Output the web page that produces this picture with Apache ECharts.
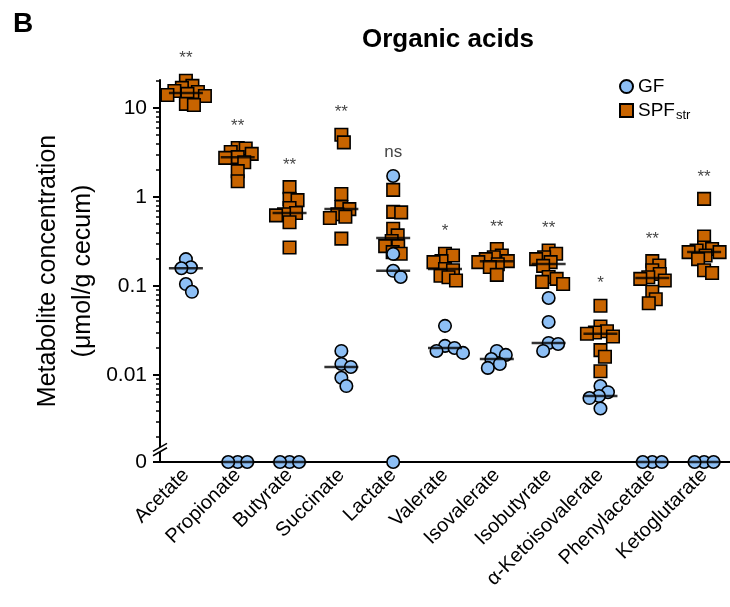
<!DOCTYPE html>
<html>
<head>
<meta charset="utf-8">
<script src="https://cdn.jsdelivr.net/npm/echarts@6/dist/echarts.min.js"></script>
<style>
  html, body { margin: 0; padding: 0; background: #fff; }
  #chart { width: 730px; height: 607px; }
</style>
</head>
<body>
<div id="chart"></div>
<script>
// Cecal organic acid concentrations (µmol/g cecum), one list per metabolite
const categories = ['Acetate', 'Propionate', 'Butyrate', 'Succinate', 'Lactate', 'Valerate',
  'Isovalerate', 'Isobutyrate', 'α-Ketoisovalerate', 'Phenylacetate', 'Ketoglutarate'];

const gfValues = [
  [0.20, 0.162, 0.158, 0.105, 0.086],
  [0, 0, 0],
  [0, 0, 0],
  [0.0186, 0.0133, 0.0123, 0.0093, 0.0075],
  [1.72, 0.229, 0.148, 0.126, 0],
  [0.0356, 0.0212, 0.0201, 0.0186, 0.0177],
  [0.0186, 0.0168, 0.0151, 0.0133, 0.012],
  [0.0733, 0.0394, 0.0229, 0.0223, 0.0186],
  [0.0075, 0.0064, 0.0058, 0.0055, 0.0042],
  [0, 0, 0],
  [0, 0, 0]
];

const spfValues = [
  [20.2, 17.7, 16.8, 15.5, 15.1, 14.4, 14.0, 13.6, 11.1, 10.8],
  [3.5, 3.55, 3.2, 3.05, 2.8, 2.75, 2.45, 1.95, 1.5],
  [1.29, 0.95, 0.92, 0.75, 0.66, 0.64, 0.62, 0.52, 0.27],
  [5.0, 4.1, 1.08, 0.77, 0.73, 0.64, 0.6, 0.58, 0.34],
  [1.2, 0.68, 0.67, 0.44, 0.37, 0.32, 0.28, 0.28, 0.24, 0.23],
  [0.23, 0.22, 0.19, 0.185, 0.155, 0.15, 0.13, 0.125, 0.115],
  [0.26, 0.22, 0.21, 0.2, 0.19, 0.185, 0.175, 0.163, 0.133],
  [0.25, 0.23, 0.21, 0.2, 0.185, 0.168, 0.126, 0.12, 0.111, 0.105],
  [0.06, 0.035, 0.031, 0.030, 0.029, 0.027, 0.019, 0.016, 0.011],
  [0.19, 0.17, 0.15, 0.136, 0.125, 0.12, 0.115, 0.086, 0.071, 0.064],
  [0.95, 0.36, 0.27, 0.26, 0.25, 0.24, 0.24, 0.22, 0.20, 0.15, 0.14]
];

const significance = ['**', '**', '**', '**', 'ns', '*', '**', '**', '*', '**', '**'];

const yTickValues = [0, 0.01, 0.1, 1, 10];
const yTickLabels = ['0', '0.01', '0.1', '1', '10'];
const yMaxValue = 20.6;
const breakValue = 0.00145;

// The y axis is log10 space; a measured zero sits one decade under 0.01, past the axis break
const ZERO_POS = -2.978;
const toAxis = v => (v > 0 ? Math.log10(v) : ZERO_POS);
const Y_MAX = Math.log10(yMaxValue);

const FONT = '"Liberation Sans", Arial, Helvetica, sans-serif';
const GF_COLOR = '#8dbff5';
const SPF_COLOR = '#c86400';

// minor log ticks 2..9 × 10^e from 0.002 up to the top of the axis
const minorTicks = [];
for (let e = -3; e <= 1; e++) {
  for (let k = 2; k <= 9; k++) {
    const v = k * Math.pow(10, e);
    if (v >= 0.002 && v <= yMaxValue) minorTicks.push(Math.log10(v));
  }
}
const majorTicks = yTickValues.map(toAxis);

const median = arr => {
  const s = arr.slice().sort((a, b) => a - b);
  const m = Math.floor(s.length / 2);
  return s.length % 2 ? s[m] : (s[m - 1] + s[m]) / 2;
};

const chart = echarts.init(document.getElementById('chart'), null, { renderer: 'canvas' });

const axisBlack = { color: '#000', width: 2 };

chart.setOption({
  backgroundColor: '#fff',
  animation: false,
  textStyle: { fontFamily: FONT, color: '#000' },
  title: [
    { text: 'Organic acids', left: 443, top: 22, textAlign: 'center',
      textStyle: { fontSize: 26, fontWeight: 'bold', fontFamily: FONT, color: '#000' } },
    { text: 'B', left: 8, top: 5,
      textStyle: { fontSize: 28, fontWeight: 'bold', fontFamily: FONT, color: '#000' } }
  ],
  legend: {
    data: ['GF', 'SPF'],
    orient: 'vertical',
    left: 614, top: 72,
    itemWidth: 13, itemHeight: 13, itemGap: 5,
    selectedMode: false,
    textStyle: {
      fontSize: 19, fontFamily: FONT, color: '#000',
      rich: {
        m: { fontSize: 19, fontFamily: FONT, color: '#000' },
        s: { fontSize: 13, fontFamily: FONT, color: '#000', padding: [9, 0, 0, 1] }
      }
    },
    formatter: name => (name === 'SPF' ? '{m|SPF}{s|str}' : name)
  },
  grid: { left: 160, top: 80, width: 573, height: 382, containLabel: false },
  xAxis: [
    {
      type: 'category', data: categories, gridIndex: 0, position: 'bottom',
      axisLine: { onZero: false, lineStyle: axisBlack },
      axisTick: { alignWithLabel: true, length: 8, lineStyle: axisBlack },
      axisLabel: { rotate: 45, interval: 0, fontSize: 20, margin: 10, color: '#000', fontFamily: FONT },
      splitLine: { show: false }
    },
    { type: 'value', gridIndex: 0, min: -0.5, max: categories.length - 0.5, show: false,
      axisLine: { onZero: false } }
  ],
  yAxis: [
    {
      type: 'value', position: 'left', min: ZERO_POS, max: Y_MAX,
      axisLine: { show: true, onZero: false, lineStyle: axisBlack },
      axisTick: { show: true, customValues: majorTicks, length: 7, lineStyle: axisBlack },
      axisLabel: {
        customValues: majorTicks, fontSize: 21, margin: 13, color: '#000', fontFamily: FONT,
        formatter: v => {
          const i = majorTicks.findIndex(t => Math.abs(t - v) < 1e-6);
          return i >= 0 ? yTickLabels[i] : '';
        }
      },
      splitLine: { show: false },
      name: 'Metabolite concentration\n(μmol/g cecum)',
      nameLocation: 'middle', nameGap: 59, nameMoveOverlap: false,
      nameTextStyle: { fontSize: 25, lineHeight: 35, color: '#000', fontFamily: FONT }
    },
    {
      type: 'value', position: 'left', offset: 0, min: ZERO_POS, max: Y_MAX,
      axisLine: { show: false, onZero: false },
      axisTick: { show: true, customValues: minorTicks, length: 4, lineStyle: { color: '#000', width: 1.5 } },
      axisLabel: { show: false },
      splitLine: { show: false }
    }
  ],
  series: []
});

// pixel scale of the plot, used to spread overlapping points sideways
const pxPerX = Math.abs(chart.convertToPixel({ xAxisIndex: 1 }, 1) - chart.convertToPixel({ xAxisIndex: 1 }, 0));
const pxPerY = Math.abs(chart.convertToPixel({ yAxisIndex: 0 }, 1) - chart.convertToPixel({ yAxisIndex: 0 }, 0));

// simple beeswarm: each point takes the nearest free horizontal slot
function swarm(values, catIndex, minDist) {
  const placed = [];
  return values.slice().sort((a, b) => b - a).map(v => {
    const yPx = toAxis(v) * pxPerY;
    let off = 0;
    for (let step = 0; step < 400; step++) {
      const cand = step === 0 ? 0 : (step % 2 ? Math.ceil(step / 2) : -step / 2) * 0.5;
      if (placed.every(p => Math.hypot(p.x - cand, p.y - yPx) >= minDist)) { off = cand; break; }
    }
    placed.push({ x: off, y: yPx });
    return [catIndex + off / pxPerX, toAxis(v), v];
  });
}

const gfPoints = [], spfPoints = [], medianPoints = [], sigPoints = [];
categories.forEach((c, i) => {
  spfPoints.push(...swarm(spfValues[i], i, 8));
  gfPoints.push(...swarm(gfValues[i], i, 9.5));
  medianPoints.push([i, toAxis(median(spfValues[i]))]);
  medianPoints.push([i, toAxis(median(gfValues[i]))]);
  const top = Math.max(...spfValues[i], ...gfValues[i]);
  sigPoints.push({ value: [i, toAxis(top)], sig: significance[i] });
});

chart.setOption({
  series: [
    {
      name: 'SPF', type: 'scatter', xAxisIndex: 1, yAxisIndex: 0,
      symbol: 'rect', symbolSize: 12.5, data: spfPoints, z: 3,
      itemStyle: { color: SPF_COLOR, borderColor: '#000', borderWidth: 1.6, opacity: 1 },
      emphasis: { disabled: true }
    },
    {
      name: 'GF', type: 'scatter', xAxisIndex: 1, yAxisIndex: 0,
      symbol: 'circle', symbolSize: 12.5, data: gfPoints, z: 4,
      itemStyle: { color: GF_COLOR, borderColor: '#000', borderWidth: 1.6, opacity: 1 },
      emphasis: { disabled: true }
    },
    {
      name: 'median', type: 'scatter', xAxisIndex: 1, yAxisIndex: 0,
      symbol: 'rect', symbolSize: [34, 2.5], data: medianPoints, z: 5, silent: true,
      itemStyle: { color: '#000' }
    },
    {
      name: 'significance', type: 'scatter', xAxisIndex: 1, yAxisIndex: 0,
      symbolSize: 0, data: sigPoints, z: 6, silent: true,
      label: {
        show: true, position: 'inside',
        formatter: p => p.data.sig,
        color: '#111', fontFamily: FONT, fontSize: 17
      },
      labelLayout: p => ({ dy: significance[p.dataIndex] === 'ns' ? -24 : -22 })
    }
  ]
});

// axis break between the log range and zero
const ax = chart.convertToPixel({ xAxisIndex: 1 }, -0.5);
const by = chart.convertToPixel({ yAxisIndex: 0 }, Math.log10(breakValue));
const slash = (cy) => ({
  type: 'line',
  shape: { x1: ax - 7, y1: cy + 4, x2: ax + 7, y2: cy - 4 },
  style: { stroke: '#000', lineWidth: 1.6 },
  z: 10
});
chart.setOption({
  graphic: [
    { type: 'polygon', shape: { points: [[ax - 4, by + 0.3], [ax + 4, by - 4.3], [ax + 4, by + 0.3], [ax - 4, by + 4.3]] },
      style: { fill: '#fff' }, z: 9 },
    slash(by - 2.2),
    slash(by + 2.2)
  ]
});
</script>
</body>
</html>
